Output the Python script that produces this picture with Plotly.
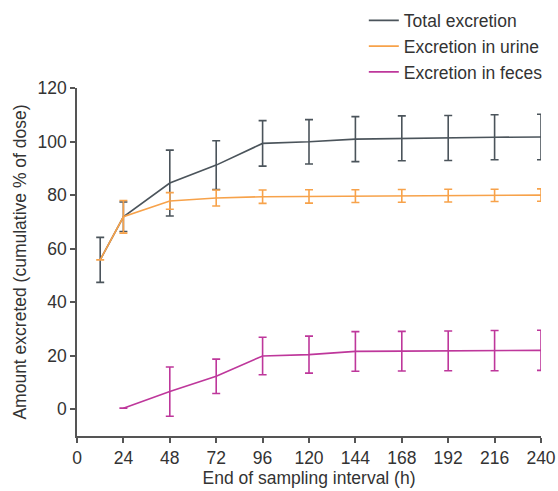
import math
import plotly.graph_objects as go

hours = [12, 24, 48, 72, 96, 120, 144, 168, 192, 216, 240]
total = [55.8, 71.9, 84.5, 91.2, 99.3, 99.9, 100.9, 101.2, 101.3, 101.6, 101.7]
total_sd = [8.4, 5.5, 12.3, 9.1, 8.5, 8.3, 8.4, 8.4, 8.4, 8.4, 8.5]
urine = [55.8, 71.9, 77.8, 78.9, 79.4, 79.5, 79.6, 79.7, 79.8, 79.9, 80.0]
urine_sd = [float("nan"), 6.1, 3.1, 3.0, 2.5, 2.5, 2.4, 2.4, 2.4, 2.3, 2.3]
feces_hours = [24, 48, 72, 96, 120, 144, 168, 192, 216, 240]
feces = [0.4, 6.6, 12.3, 19.9, 20.4, 21.6, 21.7, 21.8, 21.9, 22.0]
feces_sd = [0.0, 9.2, 6.4, 7.0, 6.9, 7.4, 7.4, 7.4, 7.5, 7.5]

x_ticks = list(range(0, 241, 24))
y_ticks = list(range(0, 121, 20))

c_total = "#4b545b"
c_urine = "#f7a24a"
c_feces = "#be379b"

fig = go.Figure()
series = [
    ("Total excretion", hours, total, total_sd, c_total, "g1"),
    ("Excretion in urine", hours, urine, urine_sd, c_urine, "g2"),
    ("Excretion in feces", feces_hours, feces, feces_sd, c_feces, "g3"),
]
for name, xs, ys, sd, col, grp in series:
    fig.add_trace(go.Scatter(
        x=xs, y=ys, name=name, mode="lines", legendgroup=grp,
        line=dict(color=col, width=1.6),
        error_y=dict(type="data", array=sd, visible=True, color=col,
                     thickness=1.6, width=4),
    ))

fam = "Liberation Sans, Arial, sans-serif"
axis_font = dict(family=fam, size=17.5, color="#333333")
title_font = dict(family=fam, size=17.5, color="#333333")
fig.update_layout(
    width=558, height=491,
    margin=dict(l=77, r=17, t=88, b=55, autoexpand=False),
    paper_bgcolor="white", plot_bgcolor="white",
    font=axis_font,
    showlegend=True,
    legend=dict(xref="container", yref="container", x=0.652, y=0.995,
                xanchor="left", yanchor="top",
                font=dict(family=fam, size=17.5, color="#333333"),
                tracegroupgap=0, bgcolor="rgba(0,0,0,0)"),
    xaxis=dict(range=[0, 240], tickvals=x_ticks, showline=True, linecolor="#555555",
               linewidth=1.5, ticks="outside", ticklen=5, tickcolor="#555555",
               tickwidth=1.5, showgrid=False, zeroline=False, automargin=False,
               tickfont=axis_font,
               title=dict(text="End of sampling interval (h)", standoff=5, font=title_font)),
    yaxis=dict(range=[-10, 120], tickvals=y_ticks, showline=True, linecolor="#555555",
               linewidth=1.5, ticks="outside", ticklen=5, tickcolor="#555555",
               tickwidth=1.5, showgrid=False, zeroline=False, automargin=False,
               tickfont=axis_font,
               title=dict(text="Amount excreted (cumulative % of dose)", standoff=6, font=title_font)),
)
fig.write_html("out.html")
